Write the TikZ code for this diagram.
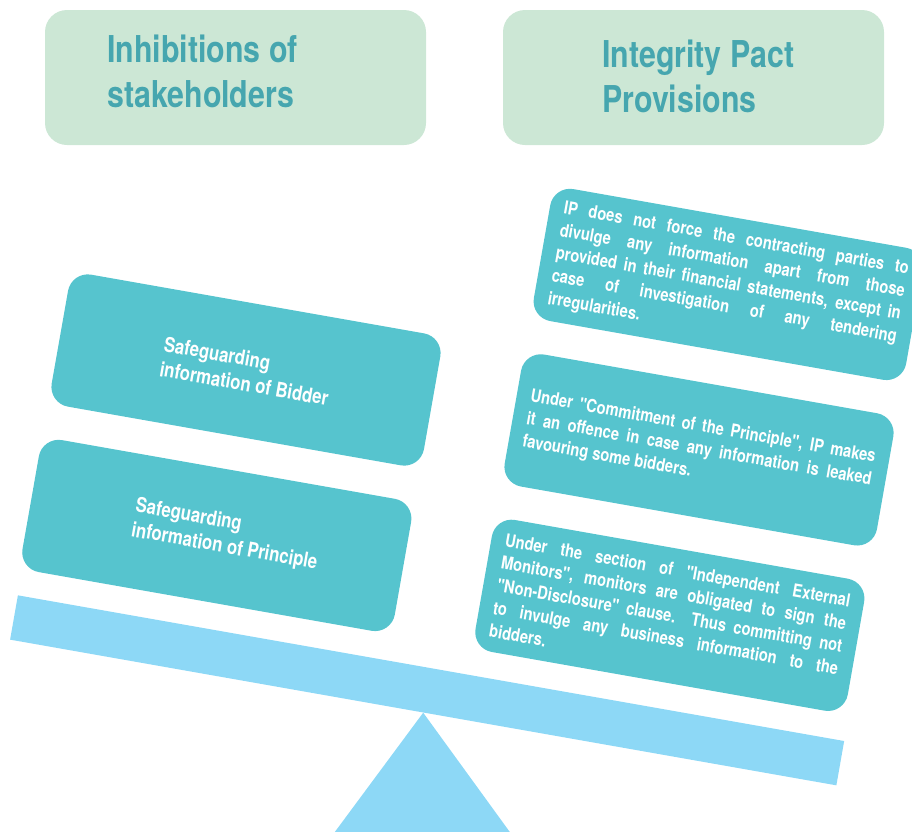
\documentclass[tikz,border=0pt]{standalone}
\usepackage{fontspec}
\setmainfont{TeX Gyre Heros}[FakeStretch=0.82, Ligatures=TeXOff]
\usepackage{xcolor}
\usetikzlibrary{positioning}

\definecolor{headfill}{HTML}{CCE7D5}
\definecolor{headink}{HTML}{46A6AF}
\definecolor{boxfill}{HTML}{56C4CE}
\definecolor{beamfill}{HTML}{8DD8F6}

\begin{document}
\begin{tikzpicture}[x=1pt, y=-1pt,
		headbox/.style={fill=headfill, rounded corners=22pt, minimum width=381pt, minimum height=135pt, inner sep=0pt},
		headlabel/.style={text=headink, font=\bfseries\fontsize{37}{45}\selectfont, align=left, inner sep=0pt, anchor=north west},
		tealbox/.style={fill=boxfill, rounded corners=20pt, minimum width=378pt, minimum height=134pt, inner sep=0pt, transform shape},
		beambar/.style={fill=beamfill, minimum width=839pt, minimum height=45pt, inner sep=0pt, transform shape},
		lefttext/.style={text=white, font=\bfseries\fontsize{20.5}{25}\selectfont, align=left, inner sep=0pt, anchor=west, transform shape},
		righttext/.style={text=white, font=\bfseries\fontsize{18}{23}\selectfont, align=justify, text width=350pt, inner sep=0pt, transform shape}]
				\useasboundingbox (0,0) rectangle (912,831);
				
				\node [headbox] (inhib) at (235.5,77.5) {};
				\node [headbox] (ipp) at (693.5,77.5) {};
				\node [headlabel] (inhibtxt) at (107,35) {Inhibitions of\\stakeholders};
				\node [headlabel] (ipptxt) at (602,40) {Integrity Pact\\Provisions};
				
				% tilted scale
				\begin{scope}[shift={(246,370)}, rotate=-10]
				\node [tealbox] (bidder) at (0,0) {};
				\node [tealbox] (principle) at (0,168) {};
				\node [tealbox] (disclose) at (460,-168) {};
				\node [tealbox] (commit) at (460,0) {};
				\node [tealbox] (monitor) at (460,168) {};
				\node [beambar] (beam) at (234,284) {};
				
				\node [lefttext] (biddertxt) at (-85,1) {Safeguarding\\information of Bidder};
				\node [lefttext] (principletxt) at (-85,166) {Safeguarding\\information of Principle};
				
				\node [righttext] (disclosetxt) at (460,-168) {IP does not force the contracting parties to\linebreak divulge any information apart from those\linebreak provided in their financial statements, except in\linebreak case of investigation of any tendering\linebreak irregularities.};
				\node [righttext] (committxt) at (460,0) {Under "Commitment of the Principle", IP makes\linebreak it an offence in case any information is leaked\linebreak favouring some bidders.};
				\node [righttext] (monitortxt) at (460,168) {Under the section of "Independent External\linebreak Monitors", monitors are obligated to sign the\linebreak "Non-Disclosure" clause. Thus committing not\linebreak to invulge any business information to the\linebreak bidders.};
				\end{scope}
				
				\fill [beamfill] (beam.south) -- ++(-100,135) -- ++(198,0) -- cycle;
				\end{tikzpicture}
\end{document}
